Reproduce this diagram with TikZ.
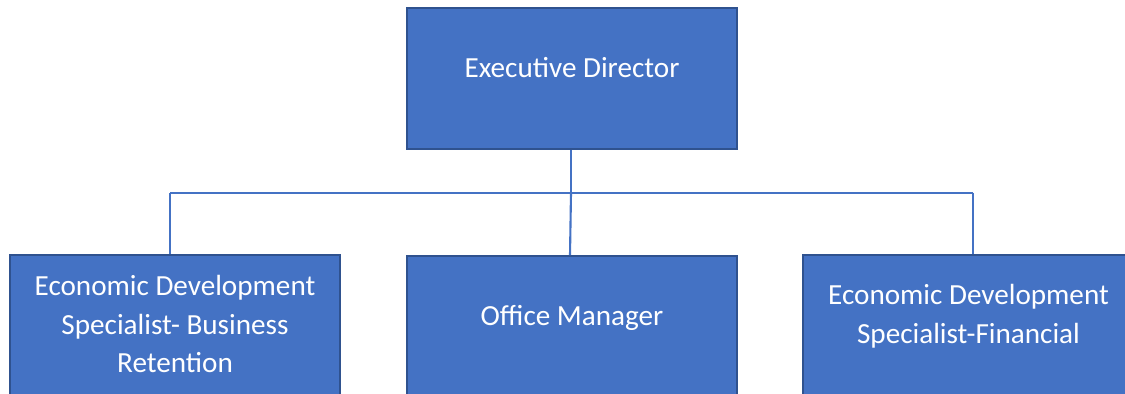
\documentclass[tikz,border=0pt]{standalone}
\usepackage{fontspec}
\setmainfont{Carlito}
\usepackage{xcolor}
\definecolor{boxfill}{HTML}{4472C4}
\definecolor{boxline}{HTML}{2F528F}

\tikzset{
    orgbox/.style={rectangle, draw=boxline, fill=boxfill, line width=1pt,
        minimum width=6.6cm, minimum height=2.82cm, inner sep=0pt},
    orgtext/.style={text=white, align=center, inner sep=0pt, anchor=base,
        font=\fontsize{16.6}{22}\selectfont},
    orgline/.style={draw=boxfill, line width=1.2pt}
}

\begin{document}
\begin{tikzpicture}[x=0.02cm, y=-0.02cm]
    \useasboundingbox (0, 0) rectangle (1125, 393);

    % Boxes
    \path
    (572, 78.5) node[orgbox] (exec) {}
    (175, 325.5) node[orgbox] (edsbr) {}
    (572, 326.5) node[orgbox] (office) {}
    (968, 325.5) node[orgbox] (edsf) {}
    ;

    % Box texts (base = last line)
    \path
    (572, 77) node[orgtext] (exectext) {Executive Director}
    (175, 372.7) node[orgtext] (edsbrtext) {Economic Development\\Specialist- Business\\Retention}
    (572, 325) node[orgtext] (officetext) {Office Manager}
    (968.5, 343.3) node[orgtext] (edsftext) {Economic Development\\Specialist-Financial}
    ;

    % Bus
    \coordinate (busmid) at (571, 192.7);
    \coordinate (busleft) at (170, 192.7);
    \coordinate (busright) at (973, 192.7);

    % Connectors
    \draw[orgline] (exec.south -| busmid) -- (busmid);
    \draw[orgline] (busleft) -- (busright);
    \draw[orgline] (busleft) -- (busleft |- edsbr.north);
    \draw[orgline] (busmid) -- ([xshift=-0.02cm]busmid |- office.north);
    \draw[orgline] (busright) -- (busright |- edsf.north);

\end{tikzpicture}
\end{document}
